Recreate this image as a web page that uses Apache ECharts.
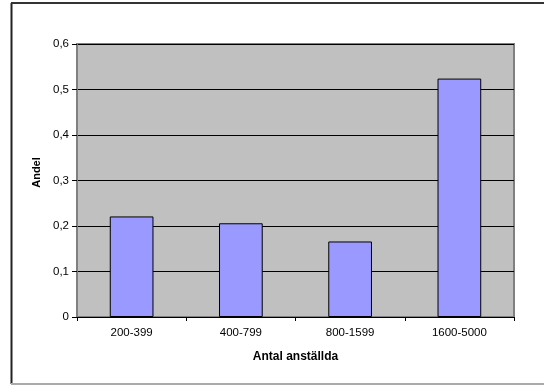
<!DOCTYPE html>
<html><head><meta charset="utf-8">
<script src="https://cdn.jsdelivr.net/npm/echarts@6/dist/echarts.min.js"></script>
<style>html,body{margin:0;padding:0;background:#fff}#c{width:544px;height:385px}</style>
</head><body><div id="c"></div>
<script>
const categories = ['200-399', '400-799', '800-1599', '1600-5000'];
const values = [0.221, 0.206, 0.166, 0.524];
const xTitle = 'Antal anställda';
const yTitle = 'Andel';

const chart = echarts.init(document.getElementById('c'), null, {renderer: 'canvas'});
const font = 'Liberation Sans, Arial, sans-serif';
chart.setOption({
  animation: false,
  graphic: [
    {type: 'line', shape: {x1: 11.5, y1: 3, x2: 11.5, y2: 384}, style: {stroke: '#222', lineWidth: 2}},
    {type: 'line', shape: {x1: 11, y1: 3, x2: 544, y2: 3}, style: {stroke: '#333', lineWidth: 2}},
    {type: 'line', shape: {x1: 11, y1: 384, x2: 544, y2: 384}, style: {stroke: '#aaa', lineWidth: 2}},
    {type: 'text', x: 37, y: 172.5, rotation: Math.PI / 2,
      style: {text: yTitle, font: 'bold 11px Liberation Sans, Arial, sans-serif', fill: '#000', align: 'center', verticalAlign: 'middle'}}
  ],
  grid: {left: 77, right: 30, top: 44, bottom: 68, show: true, backgroundColor: '#c0c0c0', borderColor: '#808080', borderWidth: 2},
  xAxis: {
    type: 'category', data: categories,
    name: xTitle, nameLocation: 'middle', nameGap: 34,
    nameTextStyle: {fontFamily: font, fontSize: 12, fontWeight: 'bold', color: '#000'},
    axisLine: {lineStyle: {color: '#000', width: 1}},
    axisTick: {show: true, length: 4, lineStyle: {color: '#000'}},
    axisLabel: {fontFamily: font, fontSize: 11.5, color: '#000', margin: 10}
  },
  yAxis: {
    type: 'value', min: 0, max: 0.6, interval: 0.1,
    axisLine: {show: true, lineStyle: {color: '#808080', width: 2}},
    axisTick: {show: true, length: 5, lineStyle: {color: '#000'}},
    axisLabel: {fontFamily: font, fontSize: 11.5, color: '#000', margin: 8,
      formatter: v => v === 0 ? '0' : v.toFixed(1).replace('.', ',')},
    splitLine: {show: true, lineStyle: {color: '#000', width: 1}}
  },
  series: [{
    type: 'bar', data: values, barCategoryGap: '60%',
    itemStyle: {color: '#9999ff', borderColor: '#000', borderWidth: 1}
  }]
});
</script></body></html>
